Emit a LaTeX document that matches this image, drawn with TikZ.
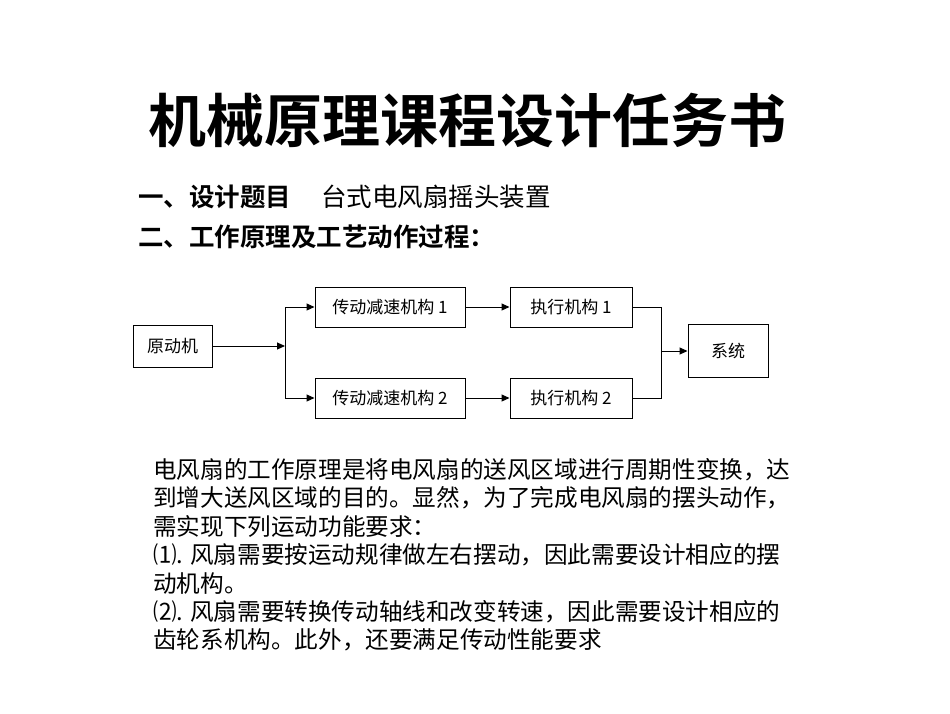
\documentclass[tikz,border=0pt]{standalone}
\usepackage{fontspec}
\setmainfont{Noto Sans CJK SC}
\newfontfamily\cjkb{Noto Sans CJK SC Bold}
\usetikzlibrary{arrows.meta}
\begin{document}
\begin{tikzpicture}[x=1pt,y=-1pt,
  box/.style={draw,line width=1pt,minimum height=40pt,inner sep=0pt,font=\fontsize{17}{17}\selectfont},
  conn/.style={line width=1pt,-{Triangle[length=8pt,width=7pt]}},
  body/.style={anchor=west,inner sep=0pt,font=\fontsize{23.6}{25}\selectfont}]
\path[use as bounding box,fill=white] (0,0) rectangle (950,713);
\node[font=\cjkb\fontsize{58}{62}\selectfont] (title) at (467,120) {机械原理课程设计任务书};
\node[anchor=west,inner sep=0pt,font=\fontsize{25.5}{27}\selectfont] (h1) at (138,197) {{\cjkb 一、设计题目}\hspace{30pt}台式电风扇摇头装置};
\node[anchor=west,inner sep=0pt,font=\cjkb\fontsize{25.5}{27}\selectfont] (h2) at (138,237) {二、工作原理及工艺动作过程：};
\node[box,minimum width=79pt,minimum height=42pt] (src) at (172.5,346) {原动机};
\node[box,minimum width=150pt] (r1) at (390,307) {传动减速机构 1};
\node[box,minimum width=150pt] (r2) at (390,398) {传动减速机构 2};
\node[box,minimum width=122pt] (e1) at (571,307) {执行机构 1};
\node[box,minimum width=122pt] (e2) at (571,398) {执行机构 2};
\node[box,minimum width=80pt,minimum height=53pt] (sys) at (728,351) {系统};
\coordinate (b1) at (285,346);
\coordinate (j1) at (661,351);
\draw[conn] (src.east) -- (b1);
\draw[line width=1pt] (285,307) -- (285,398);
\draw[conn] (285,307) -- (r1.west);
\draw[conn] (285,398) -- (r2.west);
\draw[conn] (r1) -- (e1);
\draw[conn] (r2) -- (e2);
\draw[line width=1pt] (e1.east) -- (661,307) -- (661,398) -- (e2.east);
\draw[conn] (j1) -- (sys.west);
\node[body] (l1) at (153,470) {电风扇的工作原理是将电风扇的送风区域进行周期性变换，达};
\node[body] (l2) at (153,498) {到增大送风区域的目的。显然，为了完成电风扇的摆头动作，};
\node[body] (l3) at (153,526) {需实现下列运动功能要求：};
\node[body] (l4) at (153,555) {⑴. 风扇需要按运动规律做左右摆动，因此需要设计相应的摆};
\node[body] (l5) at (153,584) {动机构。};
\node[body] (l6) at (153,612) {⑵. 风扇需要转换传动轴线和改变转速，因此需要设计相应的};
\node[body] (l7) at (153,640) {齿轮系机构。此外，还要满足传动性能要求};
\end{tikzpicture}
\end{document}
